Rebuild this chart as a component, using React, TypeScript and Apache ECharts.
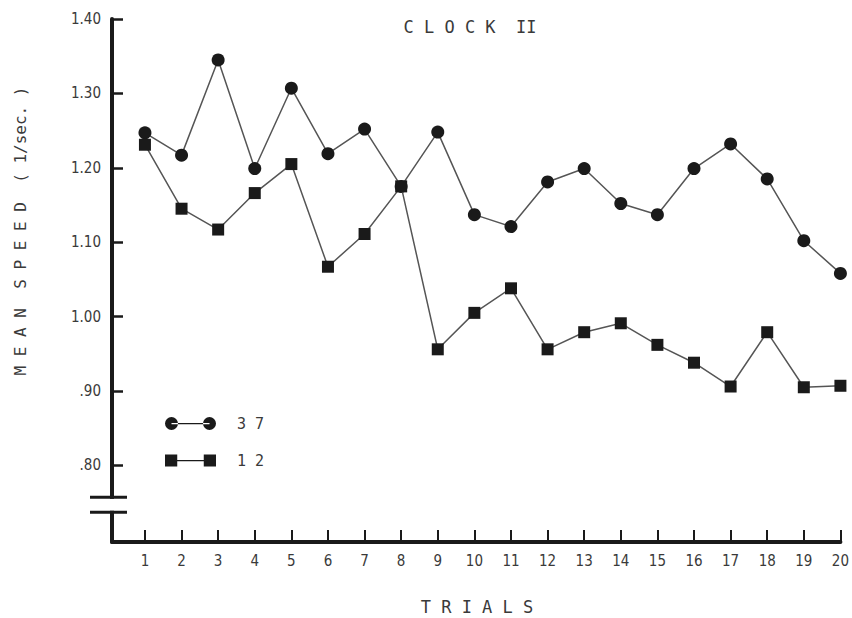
import React, { useEffect, useRef } from "react";
import * as echarts from "echarts";

const trials = [1, 2, 3, 4, 5, 6, 7, 8, 9, 10, 11, 12, 13, 14, 15, 16, 17, 18, 19, 20];
const group37 = [1.247, 1.217, 1.345, 1.199, 1.307, 1.219, 1.252, 1.175, 1.248, 1.137, 1.121, 1.181, 1.199, 1.152, 1.137, 1.199, 1.232, 1.185, 1.102, 1.058];
const group12 = [1.231, 1.145, 1.117, 1.166, 1.205, 1.067, 1.111, 1.175, 0.956, 1.005, 1.038, 0.956, 0.979, 0.991, 0.962, 0.938, 0.906, 0.979, 0.905, 0.907];
const yTicks = [0.8, 0.9, 1.0, 1.1, 1.2, 1.3, 1.4];
const seriesNames = ["37", "12"];
const axisBreak = [0.757, 0.737];

const INK = "#1a1a1a";
const TEXT = "#3a3a3a";
const MONO = "'DejaVu Sans Mono', monospace";
const COND = "'DejaVu Sans Condensed', 'DejaVu Sans', sans-serif";

const circleIcon =
  "path://M0,6.5a6.5,6.5 0 1,0 13,0a6.5,6.5 0 1,0 -13,0Z M38,6.5a6.5,6.5 0 1,0 13,0a6.5,6.5 0 1,0 -13,0Z M6.5,6H44.5V7.2H6.5Z";
const squareIcon =
  "path://M0.5,0.5H12.5V12.5H0.5Z M38.5,0.5H50.5V12.5H38.5Z M12,6H39V7.2H12Z";

export default function App() {
  const ref = useRef<HTMLDivElement>(null);

  useEffect(() => {
    if (!ref.current) return;
    const chart = echarts.init(ref.current, null, { renderer: "svg" });
    const xMin = 0.1;
    const option: any = {
      animation: false,
      backgroundColor: "#ffffff",
      grid: { left: 112, right: 10, top: 19, bottom: 76, containLabel: false },
      xAxis: {
        type: "value",
        min: xMin,
        max: 20,
        axisLine: { show: true, lineStyle: { color: INK, width: 4 } },
        axisTick: {
          show: true,
          inside: true,
          length: 12,
          lineStyle: { color: INK, width: 2 },
          customValues: trials,
        },
        axisLabel: {
          color: TEXT,
          fontFamily: COND,
          fontSize: 15,
          margin: 11,
          customValues: trials,
        },
        splitLine: { show: false },
      },
      yAxis: {
        type: "value",
        min: 0.697,
        max: 1.4,
        axisLine: { show: true, lineStyle: { color: INK, width: 4 } },
        axisTick: {
          show: true,
          inside: true,
          length: 11,
          lineStyle: { color: INK, width: 2.5 },
          customValues: yTicks,
        },
        axisLabel: {
          color: TEXT,
          fontFamily: COND,
          fontSize: 15,
          margin: 11,
          customValues: yTicks,
          formatter: (v: number) => {
            const s = v.toFixed(2);
            return v < 1 ? s.slice(1) : s;
          },
        },
        splitLine: { show: false },
      },
      legend: {
        orient: "vertical",
        left: 165,
        top: 416,
        padding: 0,
        itemWidth: 51,
        itemHeight: 13,
        itemGap: 22,
        selectedMode: false,
        textStyle: {
          color: TEXT,
          fontFamily: MONO,
          fontSize: 15,
          padding: [0, 0, 0, 16],
        },
        formatter: (name: string) => name.split("").join(" "),
        data: [
          { name: seriesNames[0], icon: circleIcon },
          { name: seriesNames[1], icon: squareIcon },
        ],
      },
      series: [
        {
          name: seriesNames[0],
          type: "line",
          data: trials.map((t, i) => [t, group37[i]]),
          symbol: "circle",
          symbolSize: 13,
          itemStyle: { color: INK },
          lineStyle: { color: "#555", width: 1.5 },
          z: 2,
        },
        {
          name: seriesNames[1],
          type: "line",
          data: trials.map((t, i) => [t, group12[i]]),
          symbol: "rect",
          symbolSize: 12,
          itemStyle: { color: INK },
          lineStyle: { color: "#555", width: 1.5 },
          z: 3,
        },
      ],
    };
    chart.setOption(option);

    const x0 = chart.convertToPixel({ xAxisIndex: 0 }, xMin) as number;
    const yb1 = chart.convertToPixel({ yAxisIndex: 0 }, axisBreak[0]) as number;
    const yb2 = chart.convertToPixel({ yAxisIndex: 0 }, axisBreak[1]) as number;

    chart.setOption({
      graphic: [
        {
          type: "rect",
          z: 100,
          shape: { x: x0 - 6, y: yb1 + 1.5, width: 12, height: yb2 - yb1 - 3 },
          style: { fill: "#ffffff" },
        },
        {
          type: "line",
          z: 101,
          shape: { x1: x0 - 22, y1: yb1, x2: x0 + 15, y2: yb1 },
          style: { stroke: INK, lineWidth: 3 },
        },
        {
          type: "line",
          z: 101,
          shape: { x1: x0 - 22, y1: yb2, x2: x0 + 15, y2: yb2 },
          style: { stroke: INK, lineWidth: 3 },
        },
        {
          type: "text",
          x: 470,
          y: 27,
          style: {
            text: "C L O C K  II",
            fill: TEXT,
            font: `17px ${MONO}`,
            align: "center",
            verticalAlign: "middle",
          },
        },
        {
          type: "text",
          x: 477,
          y: 607,
          style: {
            text: "T R I A L S",
            fill: TEXT,
            font: `17px ${MONO}`,
            align: "center",
            verticalAlign: "middle",
          },
        },
        {
          type: "text",
          x: 20,
          y: 231,
          rotation: Math.PI / 2,
          style: {
            text: "M E A N  S P E E D  ( 1/sec. )",
            fill: TEXT,
            font: `16px ${MONO}`,
            align: "center",
            verticalAlign: "middle",
          },
        },
      ],
    });

    return () => chart.dispose();
  }, []);

  return <div ref={ref} style={{ width: 852, height: 618, position: "absolute", left: 0, top: 0 }} />;
}
